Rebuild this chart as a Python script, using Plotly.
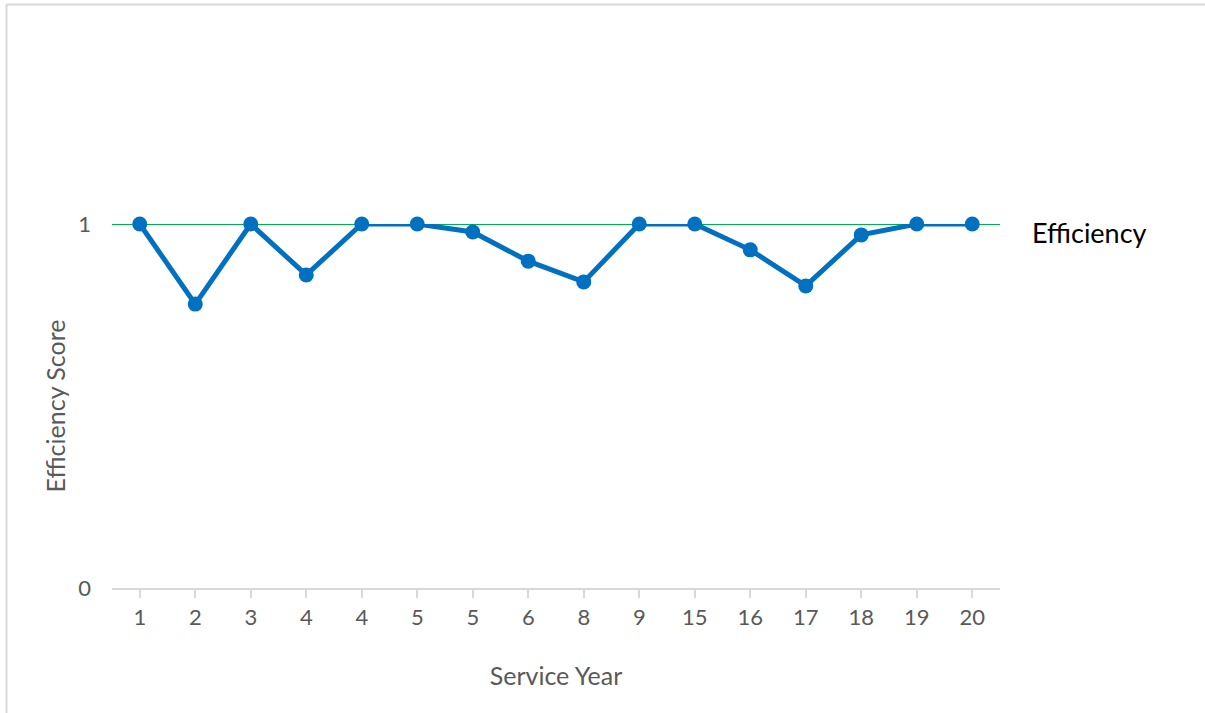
import plotly.graph_objects as go

# Service year of each staff member (category labels, in order) and efficiency scores
service_years = ["1", "2", "3", "4", "4", "5", "5", "6", "8", "9", "15", "16", "17", "18", "19", "20"]
efficiency = [1.0, 0.78, 1.0, 0.86, 1.0, 1.0, 0.978, 0.898, 0.841, 1.0, 1.0, 0.929, 0.83, 0.97, 1.0, 1.0]
frontier = 1.0  # efficient frontier score
y_ticks = [0, 1]

# Unique positions so repeated year labels stay separate categories
positions = list(range(len(service_years)))

FONT = "Lato"
GREY = "#595959"
BORDER = "#D9D9D9"

fig = go.Figure()

fig.add_trace(go.Scatter(
    x=positions,
    y=efficiency,
    mode="lines+markers",
    line=dict(color="#0070C0", width=5),
    marker=dict(color="#0070C0", size=15),
    cliponaxis=False,
    showlegend=False,
))

# Frontier line across the full plot width
fig.add_shape(
    type="line", xref="x domain", yref="y",
    x0=0, x1=1, y0=frontier, y1=frontier,
    line=dict(color="#00B050", width=2), layer="below",
)

fig.add_annotation(
    text="Efficiency", xref="paper", yref="y",
    x=1, y=frontier, xanchor="left", yanchor="middle",
    xshift=30, yshift=-8, showarrow=False,
    font=dict(family=FONT, size=27, color="#000000"),
)

fig.update_xaxes(
    tickmode="array", tickvals=positions, ticktext=service_years,
    range=[-0.5, len(service_years) - 0.5],
    showline=True, linecolor=BORDER, linewidth=2,
    ticks="outside", ticklen=8, tickcolor=BORDER, tickwidth=2,
    showgrid=False, zeroline=False,
    tickfont=dict(family=FONT, size=22, color=GREY),
    ticklabelstandoff=1,
    title=dict(text="Service Year", font=dict(family=FONT, size=25, color=GREY), standoff=38),
)

fig.update_yaxes(
    range=[0, 1], tickvals=y_ticks, ticktext=[str(v) for v in y_ticks],
    showline=False, showgrid=False, zeroline=False, ticks="",
    tickfont=dict(family=FONT, size=22, color=GREY),
    ticklabelstandoff=20,
    title=dict(text="Efficiency Score", font=dict(family=FONT, size=25, color=GREY), standoff=5),
)

# Chart frame: only the left and top edges fall inside the page
fig.add_shape(
    type="line", xref="paper", yref="paper",
    x0=-105.5 / 888, x1=-105.5 / 888, y0=-140 / 364, y1=1 + 219.5 / 364,
    line=dict(color=BORDER, width=2), layer="below",
)
fig.add_shape(
    type="line", xref="paper", yref="paper",
    x0=-105.5 / 888, x1=1 + 300 / 888, y0=1 + 219.5 / 364, y1=1 + 219.5 / 364,
    line=dict(color=BORDER, width=2), layer="below",
)

fig.update_layout(
    width=1205, height=713,
    margin=dict(l=112, r=205, t=224, b=125, autoexpand=False),
    paper_bgcolor="white", plot_bgcolor="white",
)

fig.write_html("out.html")
